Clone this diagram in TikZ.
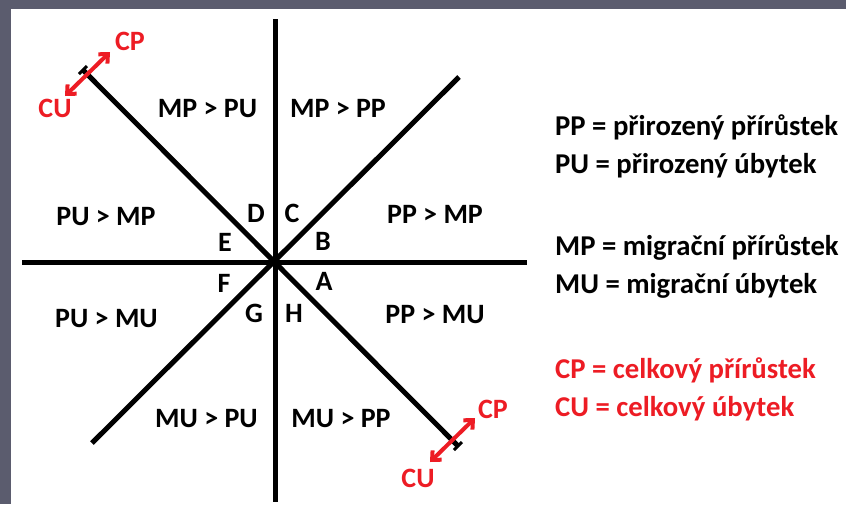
\documentclass[tikz,border=0pt]{standalone}
\usepackage{fontspec}
\setmainfont{Carlito}
\usetikzlibrary{arrows.meta,calc}
\definecolor{redc}{RGB}{237,28,36}
\definecolor{framec}{RGB}{91,92,110}
\begin{document}
\begin{tikzpicture}[x=1pt,y=-1pt,
  lbl/.style={font=\fontsize{28}{30}\selectfont\bfseries, inner sep=0pt, anchor=base},
  leg/.style={font=\fontsize{28.7}{30}\selectfont\bfseries, inner sep=0pt, anchor=base west},
  axisline/.style={line width=5pt, black},
  tickline/.style={line width=3pt, black},
  redarrow/.style={line width=4pt, redc, {Straight Barb[length=7pt,width=13pt,line width=4pt]}-{Straight Barb[length=7pt,width=13pt,line width=4pt]}}]
\useasboundingbox (0,0) rectangle (846,504);
\fill[framec] (0,0) rectangle (846,504);
\fill[white] (11,9) rectangle (846,504);
% axes
\coordinate (o) at (275,262);
\coordinate (top) at (275,19);
\coordinate (bot) at (275,502);
\coordinate (lft) at (22,262);
\coordinate (rgt) at (527,262);
\coordinate (nw) at (83,70);
\coordinate (se) at (458,446);
\coordinate (ne) at (459,77);
\coordinate (sw) at (92,443);
\draw[axisline] (top) -- (bot);
\draw[axisline] (lft) -- (rgt);
\draw[axisline] (nw) -- (se);
\draw[axisline] (ne) -- (sw);
% ticks
\draw[tickline] ($(nw)+(-4,4)$) -- ($(nw)+(4,-4)$);
\draw[tickline] ($(se)+(-4,4)$) -- ($(se)+(4,-4)$);
% red arrows
\coordinate (cua) at (65,96);
\coordinate (cpa) at (110,52);
\coordinate (cub) at (430,462);
\coordinate (cpb) at (475,418);
\draw[redarrow] (cua) -- (cpa);
\draw[redarrow] (cub) -- (cpb);
\node[lbl, redc] (cpA) at (130,50) {CP};
\node[lbl, redc] (cuA) at (55,117) {CU};
\node[lbl, redc] (cpB) at (493,418) {CP};
\node[lbl, redc] (cuB) at (418,487) {CU};
% quadrant labels
\node[lbl] (q1) at (207.5,117) {MP > PU};
\node[lbl] (q2) at (338,117) {MP > PP};
\node[lbl] (q3) at (106,225) {PU > MP};
\node[lbl] (q4) at (435,223) {PP > MP};
\node[lbl] (q5) at (106.5,327) {PU > MU};
\node[lbl] (q6) at (435,323) {PP > MU};
\node[lbl] (q7) at (206.5,427) {MU > PU};
\node[lbl] (q8) at (341,427) {MU > PP};
% letters
\node[lbl] (lA) at (324,290) {A};
\node[lbl] (lB) at (323,250) {B};
\node[lbl] (lC) at (292,222) {C};
\node[lbl] (lD) at (256,222) {D};
\node[lbl] (lE) at (225,251) {E};
\node[lbl] (lF) at (224,292) {F};
\node[lbl] (lG) at (254,322) {G};
\node[lbl] (lH) at (294,322) {H};
% legend
\node[leg] (g1) at (555,135) {PP = přirozený přírůstek};
\node[leg] (g2) at (555,173) {PU = přirozený úbytek};
\node[leg] (g3) at (555,255) {MP = migrační přírůstek};
\node[leg] (g4) at (555,293) {MU = migrační úbytek};
\node[leg, redc] (g5) at (555,378) {CP = celkový přírůstek};
\node[leg, redc] (g6) at (555,416) {CU = celkový úbytek};
\end{tikzpicture}
\end{document}
